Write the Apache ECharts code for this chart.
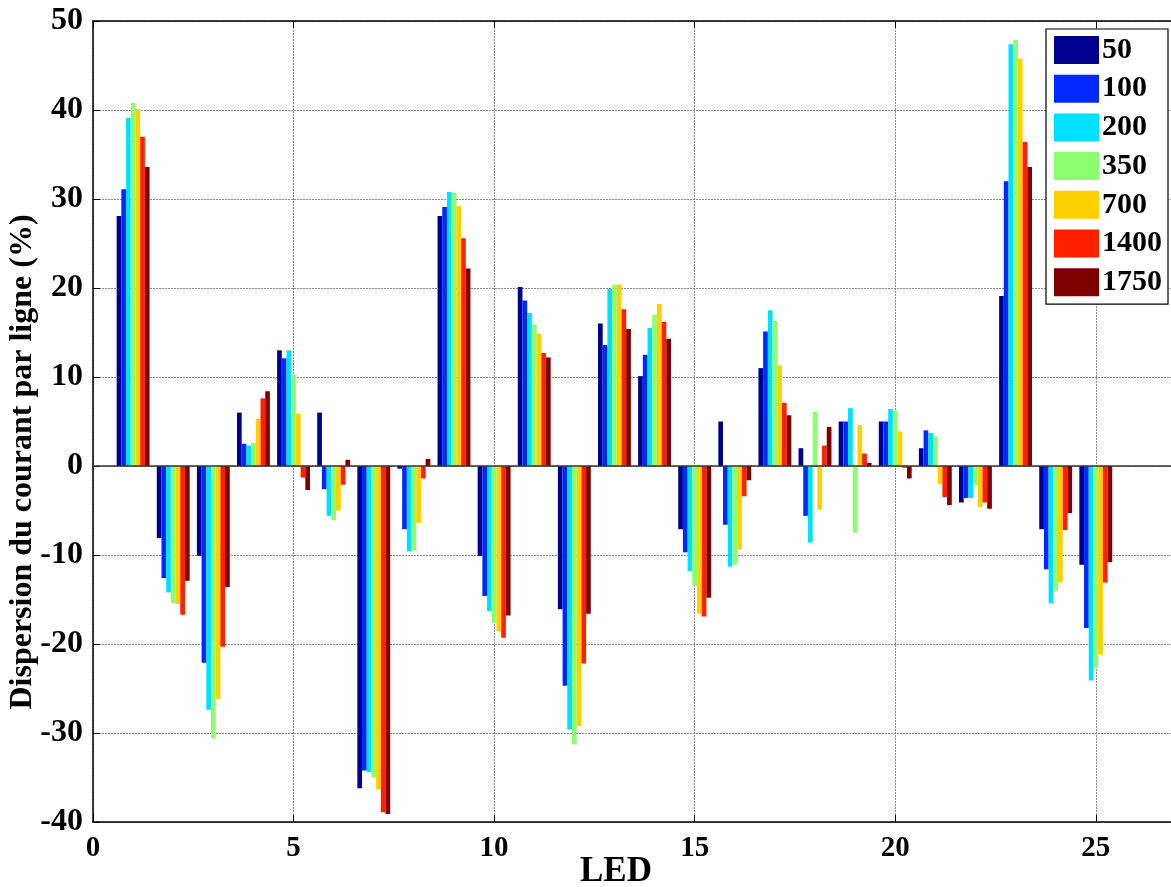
<!DOCTYPE html>
<html>
<head>
<meta charset="utf-8">
<script src="https://cdn.jsdelivr.net/npm/echarts@6/dist/echarts.min.js"></script>
<style>
html,body{margin:0;padding:0;background:#fff;overflow:hidden;}
#chart{width:1180px;height:887px;}
</style>
</head>
<body>
<div id="chart"></div>
<script>
// LED index (x positions of groups)
const leds = [1,2,3,4,5,6,7,8,9,10,11,12,13,14,15,16,17,18,19,20,21,22,23,24,25];
// Legend names
const seriesNames = ['50','100','200','350','700','1400','1750'];
// Series values (%)
const s50   = [28.1,-8.1,-10.1,6.0,13.0,6.0,-36.2,-0.3,28.1,-10.1,20.1,-16.1,16.0,10.1,-7.1,5.0,11.0,2.0,5.0,5.0,2.0,-4.1,19.1,-7.1,-11.1];
const s100  = [31.1,-12.6,-22.1,2.5,12.1,-2.6,-34.2,-7.1,29.1,-14.6,18.6,-24.7,13.6,12.5,-9.7,-6.6,15.1,-5.6,5.0,5.0,4.0,-3.6,32.0,-11.6,-18.2];
const s200  = [39.1,-14.2,-27.4,2.3,13.0,-5.6,-34.4,-9.6,30.8,-16.3,17.2,-29.6,19.9,15.5,-11.8,-11.3,17.5,-8.6,6.5,6.4,3.7,-3.6,47.4,-15.4,-24.1];
const s350  = [40.8,-15.4,-30.6,2.6,10.3,-6.1,-35.0,-9.5,30.7,-17.6,15.9,-31.3,20.4,17.0,-13.4,-11.0,16.3,6.1,-7.5,6.2,3.3,-2.2,47.9,-14.0,-22.7];
const s700  = [40.1,-15.5,-26.2,5.3,5.9,-5.0,-36.3,-6.4,29.2,-18.6,14.9,-29.2,20.4,18.2,-16.6,-9.4,11.3,-4.9,4.6,3.9,-2.0,-4.6,45.8,-13.1,-21.2];
const s1400 = [37.0,-16.7,-20.3,7.6,-1.3,-2.1,-38.9,-1.4,25.6,-19.3,12.7,-22.2,17.6,16.2,-16.9,-3.4,7.1,2.3,1.4,-0.2,-3.5,-4.1,36.4,-7.2,-13.1];
const s1750 = [33.6,-12.9,-13.6,8.4,-2.7,0.7,-39.1,0.8,22.2,-16.8,12.2,-16.6,15.4,14.3,-14.8,-1.6,5.7,4.4,0.35,-1.4,-4.4,-4.8,33.6,-5.3,-10.8];
// Axis ticks
const yTicks = [-40,-30,-20,-10,0,10,20,30,40,50];
const xTicks = [0,5,10,15,20,25];

const allSeries = [s50,s100,s200,s350,s700,s1400,s1750];
const colors = ['#00008f','#0028ff','#00e0ff','#8cff70','#ffd000','#ff2000','#800000'];
const nSer = allSeries.length;
const groupW = 0.82;
const barW = groupW / nSer;
const FONT = "'Liberation Serif','Times New Roman',serif";

const chart = echarts.init(document.getElementById('chart'), null, {renderer:'canvas'});

const series = allSeries.map((vals, si) => ({
  type: 'custom',
  name: seriesNames[si],
  itemStyle: {color: colors[si]},
  encode: {x: 0, y: 1},
  clip: true,
  data: leds.map((l, k) => [l, vals[k]]),
  renderItem: function (params, api) {
    const led = api.value(0), v = api.value(1);
    const left = led - groupW / 2 + si * barW;
    const p0 = api.coord([left, 0]);
    const p1 = api.coord([left + barW, v]);
    const x = Math.min(p0[0], p1[0]);
    const y = Math.min(p0[1], p1[1]);
    return {
      type: 'rect',
      shape: {x: x, y: y, width: Math.abs(p1[0] - p0[0]), height: Math.abs(p1[1] - p0[1])},
      style: {fill: api.visual('color')}
    };
  }
}));

series.push({
  type: 'line',
  name: 'zero',
  data: [[xTicks[0], 0], [27, 0]],
  symbol: 'none',
  silent: true,
  z: 5,
  lineStyle: {color: '#333', width: 1.5}
});

const axisLabelStyle = {fontFamily: FONT, fontWeight: 'bold', color: '#000'};

const option = {
  backgroundColor: '#fff',
  animation: false,
  grid: {left: 93, right: 4, top: 21, bottom: 65, containLabel: false},
  xAxis: [{
    type: 'value', min: 0, max: 27, interval: 5,
    axisLine: {show: true, onZero: false, lineStyle: {color: '#000', width: 1.5}},
    axisTick: {show: true, inside: true, length: 7, lineStyle: {color: '#000'}},
    axisLabel: Object.assign({fontSize: 29, margin: 12, formatter: v => xTicks.includes(v) ? String(v) : ''}, axisLabelStyle),
    splitLine: {show: true, lineStyle: {color: '#8a8a8a', type: [2, 1], width: 1}}
  }, {
    type: 'value', min: 0, max: 27, interval: 5, position: 'top',
    axisLine: {show: true, onZero: false, lineStyle: {color: '#000', width: 1.5}},
    axisTick: {show: true, inside: true, length: 7, lineStyle: {color: '#000'}},
    axisLabel: {show: false},
    splitLine: {show: false}
  }],
  yAxis: {
    type: 'value', min: -40, max: 50, interval: 10,
    axisLine: {show: true, onZero: false, lineStyle: {color: '#000', width: 1.5}},
    axisTick: {show: true, inside: true, length: 7, lineStyle: {color: '#000'}},
    axisLabel: Object.assign({fontSize: 32, margin: 10, formatter: v => yTicks.includes(v) ? String(v) : ''}, axisLabelStyle),
    splitLine: {show: true, lineStyle: {color: '#8a8a8a', type: [2, 1], width: 1}}
  },
  legend: {
    data: seriesNames,
    orient: 'vertical',
    left: 1046, top: 29,
    padding: [6, 6, 7, 8],
    itemWidth: 45, itemHeight: 28, itemGap: 8.7,
    icon: 'rect',
    backgroundColor: '#fff',
    borderColor: '#000', borderWidth: 1.2,
    textStyle: {fontFamily: FONT, fontWeight: 'bold', fontSize: 30, color: '#000', lineHeight: 28, padding: [0, 0, 0, -2]}
  },
  graphic: [{
    type: 'text', left: 580, top: 854,
    style: {text: 'LED', font: "bold 35px " + FONT, fill: '#000'}
  }, {
    type: 'text', x: 23, y: 462, rotation: Math.PI / 2,
    style: {text: 'Dispersion du courant par ligne (%)', font: "bold 32px " + FONT, fill: '#000', align: 'center', verticalAlign: 'middle'}
  }],
  series: series
};
chart.setOption(option);
</script>
</body>
</html>
